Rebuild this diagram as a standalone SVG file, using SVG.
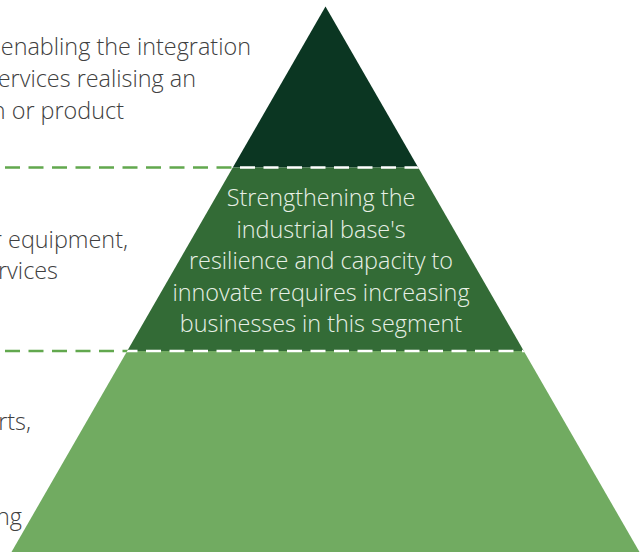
<svg xmlns="http://www.w3.org/2000/svg" width="640" height="552" viewBox="0 0 640 552">
  <style>
    .side { font-family: "Open Sans", "Noto Sans", "Liberation Sans", sans-serif; font-size: 23.4px; font-weight: 300; fill: #404040; text-anchor: end; }
    .inner { font-family: "Open Sans", "Noto Sans", "Liberation Sans", sans-serif; font-size: 23.4px; font-weight: 300; fill: #e8f0e6; text-anchor: middle; }
    .gdash { stroke: #62a84e; stroke-width: 2.5; stroke-dasharray: 15 8.5; fill: none; }
    .wdash { stroke: #ffffff; stroke-width: 2.5; stroke-dasharray: 15 8.5; fill: none; }
  </style>
  <defs>
    <clipPath id="pyr">
      <polygon points="325.5,6.5 639.5,552 11.5,552"/>
    </clipPath>
  </defs>
  <rect width="640" height="552" fill="#ffffff"/>
  <g id="connectors">
    <line class="gdash" x1="5" y1="167.5" x2="234" y2="167.5"/>
    <line class="gdash" x1="5" y1="351" x2="128" y2="351"/>
  </g>
  <g id="tier-top">
    <polygon points="325.5,6.5 418.2,167.5 232.8,167.5" fill="#0b3622"/>
  </g>
  <g id="tier-middle">
    <polygon points="232.8,167.5 418.2,167.5 523.8,351 127.2,351" fill="#336b36"/>
    <text class="inner" x="321" y="206">Strengthening the</text>
    <text class="inner" x="321" y="238">industrial base's</text>
    <text class="inner" x="321" y="269">resilience and capacity to</text>
    <text class="inner" x="321" y="301">innovate requires increasing</text>
    <text class="inner" x="321" y="332">businesses in this segment</text>
  </g>
  <g id="tier-bottom">
    <polygon points="127.2,351 523.8,351 639.5,552 11.5,552" fill="#71ab61"/>
  </g>
  <g id="dividers" clip-path="url(#pyr)">
    <line class="wdash" x1="5" y1="167.5" x2="640" y2="167.5"/>
    <line class="wdash" x1="5" y1="351" x2="640" y2="351"/>
  </g>
  <g id="label-top">
    <text class="side" x="251" y="55">enabling the integration</text>
    <text class="side" x="196" y="87">ervices realising an</text>
    <text class="side" x="124" y="119">n or product</text>
  </g>
  <g id="label-middle">
    <text class="side" x="128" y="248">r equipment,</text>
    <text class="side" x="58" y="279">rvices</text>
  </g>
  <g id="label-bottom">
    <text class="side" x="31" y="430">rts,</text>
    <text class="side" x="22" y="525">ng</text>
  </g>
</svg>
